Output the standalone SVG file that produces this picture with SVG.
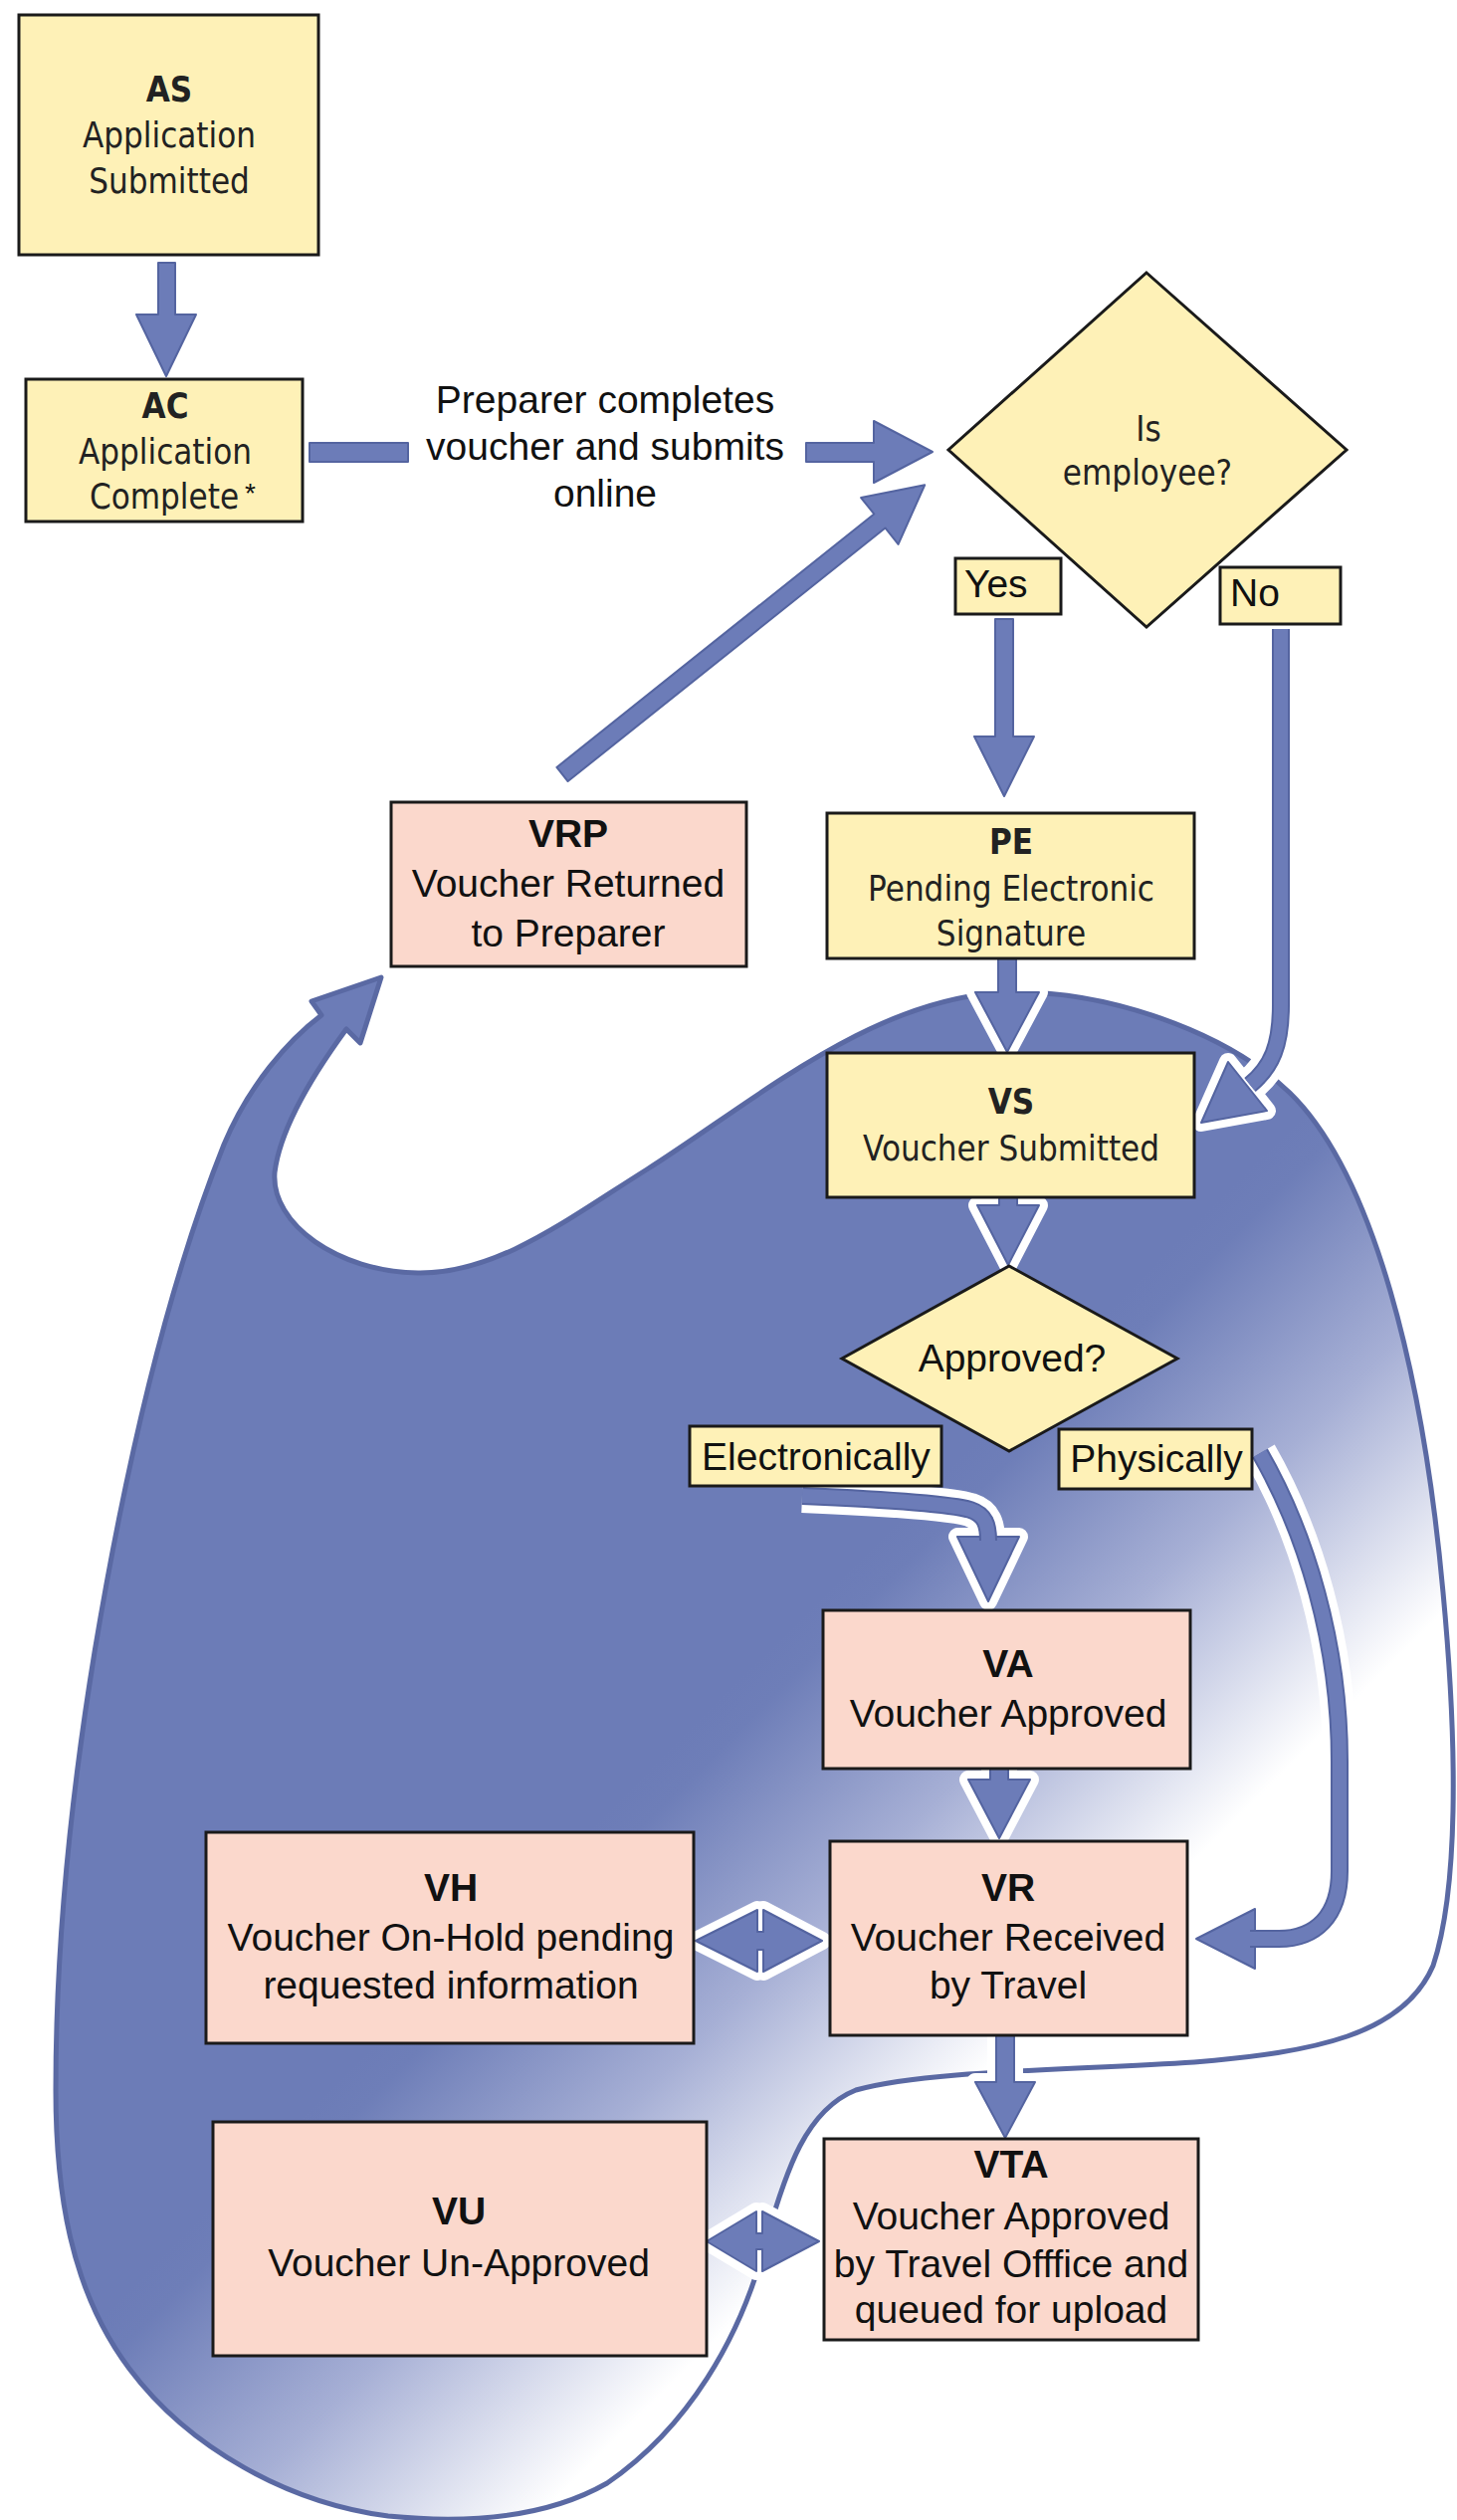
<svg xmlns="http://www.w3.org/2000/svg" xmlns:xlink="http://www.w3.org/1999/xlink" width="1464" height="2532" viewBox="0 0 1464 2532">
<defs>
<style>
.bg{fill:#ffffff}
.blob{fill:url(#blobGrad);stroke:#5a69a3;stroke-width:5;stroke-linejoin:round}
.by{fill:#fef1b7;stroke:#1a1a1a;stroke-width:3}
.bp{fill:#fbd8cc;stroke:#1a1a1a;stroke-width:3}
.arrow{fill:#6c7cb8;stroke:#5464a0;stroke-width:2;stroke-linejoin:round}
.halo{fill:#ffffff;stroke:#ffffff;stroke-width:18;stroke-linejoin:round}
.shalo{fill:none;stroke:#ffffff;stroke-width:34}
.shafto{fill:none;stroke:#5464a0;stroke-width:18}
.shaft{fill:none;stroke:#6c7cb8;stroke-width:14}
.t{font-family:"Liberation Sans",Arial,sans-serif;font-size:39px;fill:#111111;text-anchor:middle}
.ts{font-family:"Liberation Sans",Arial,sans-serif;font-size:39px;fill:#111111}
.d{font-family:"DejaVu Sans",Verdana,sans-serif;font-size:35px;fill:#222222;text-anchor:middle}
.b{font-weight:bold}
</style>
<linearGradient id="blobGrad" gradientUnits="userSpaceOnUse" x1="1215" y1="1215" x2="1535" y2="1535">
<stop offset="0" stop-color="#6c7cb7"/>
<stop offset="0.08" stop-color="#6e7eb8"/>
<stop offset="0.5" stop-color="#a6afd5"/>
<stop offset="1" stop-color="#ffffff"/>
</linearGradient>
<path id="a-as" d="M159,264 H176 V316 H197 L167,378 L137,316 H159 Z"/>
<path id="a-ac1" d="M311,445 H410 V464 H311 Z"/>
<path id="a-ac2" d="M810,445 H878 V423 L937,454 L878,485 V464 H810 Z"/>
<path id="a-vrp" transform="translate(565,778) rotate(-38.6)" d="M0,-9 H408 V-30 L466,0 L408,30 V9 H0 Z"/>
<path id="a-yes" d="M1000,622 H1018 V740 H1039 L1009,800 L979,740 H1000 Z"/>
<path id="a-no-h" d="M1207,1128 L1234,1067 L1273,1116 Z"/>
<path id="a-no-s" d="M1287,632 V1010 C1287,1050 1278,1072 1256,1090"/>
<path id="a-pe" d="M1003,963 H1021 V997 H1044 L1012,1057 L980,997 H1003 Z"/>
<path id="a-vs" d="M1004,1203 H1022 V1211 H1044 L1013,1271 L982,1211 H1004 Z"/>
<path id="a-el-h" d="M962,1544 H1024 L993,1609 Z"/>
<path id="a-el-s" d="M806,1503 C900,1507 955,1511 975,1517 C990,1522 993,1532 993,1548"/>
<path id="a-ph-h" d="M1202,1948 L1261,1918 V1978 Z"/>
<path id="a-ph-s" d="M1266,1460 C1312,1540 1346,1650 1346,1770 V1880 C1346,1925 1322,1948 1285,1948 H1256"/>
<path id="a-va" d="M995,1777 H1013 V1788 H1035 L1004,1847 L973,1788 H995 Z"/>
<path id="a-vh" d="M699,1950 L761,1919 V1941 H767 V1919 L826,1950 L767,1981 V1959 H761 V1981 Z"/>
<path id="a-vr" d="M1001,2045 H1019 V2092 H1040 L1010,2148 L980,2092 H1001 Z"/>
<path id="a-vu" d="M710,2252 L760,2222 V2244 H766 V2222 L823,2252 L766,2282 V2260 H760 V2282 Z"/>
</defs>
<rect class="bg" x="0" y="0" width="1464" height="2532"/>
<g id="loop-background">
<path class="blob" d="M383,982 L362,1048 L348,1034 C318,1075 282,1130 276,1178 C272,1230 340,1278 420,1279 C500,1280 570,1225 650,1175 C760,1105 880,1000 1015,997 C1110,995 1230,1035 1296,1098 C1380,1180 1430,1380 1450,1600 C1465,1760 1465,1900 1440,1975 C1410,2045 1320,2062 1200,2072 C1080,2080 930,2080 860,2100 C810,2120 790,2180 770,2250 C745,2350 690,2440 610,2495 C540,2535 450,2534 390,2528 C290,2515 190,2460 130,2380 C70,2300 56,2200 56,2100 C56,1950 72,1800 95,1660 C125,1480 165,1300 225,1150 C250,1090 290,1045 323,1020 L313,1006 Z"/>
</g>
<g id="connectors">
<use xlink:href="#a-pe" class="halo"/>
<use xlink:href="#a-vs" class="halo"/>
<use xlink:href="#a-no-h" class="halo"/>
<use xlink:href="#a-no-s" class="shalo"/>
<use xlink:href="#a-el-h" class="halo"/>
<use xlink:href="#a-el-s" class="shalo"/>
<use xlink:href="#a-ph-h" class="halo"/>
<use xlink:href="#a-ph-s" class="shalo"/>
<use xlink:href="#a-va" class="halo"/>
<use xlink:href="#a-vh" class="halo"/>
<use xlink:href="#a-vr" class="halo"/>
<use xlink:href="#a-vu" class="halo"/>
<use xlink:href="#a-as" class="arrow"/>
<use xlink:href="#a-ac1" class="arrow"/>
<use xlink:href="#a-ac2" class="arrow"/>
<use xlink:href="#a-vrp" class="arrow"/>
<use xlink:href="#a-yes" class="arrow"/>
<use xlink:href="#a-no-h" class="arrow"/>
<use xlink:href="#a-no-s" class="shafto"/>
<use xlink:href="#a-no-s" class="shaft"/>
<use xlink:href="#a-pe" class="arrow"/>
<use xlink:href="#a-vs" class="arrow"/>
<use xlink:href="#a-el-h" class="arrow"/>
<use xlink:href="#a-el-s" class="shafto"/>
<use xlink:href="#a-el-s" class="shaft"/>
<use xlink:href="#a-ph-h" class="arrow"/>
<use xlink:href="#a-ph-s" class="shafto"/>
<use xlink:href="#a-ph-s" class="shaft"/>
<use xlink:href="#a-va" class="arrow"/>
<use xlink:href="#a-vh" class="arrow"/>
<use xlink:href="#a-vr" class="arrow"/>
<use xlink:href="#a-vu" class="arrow"/>
<g id="label-preparer">
<text class="t" x="608" y="415">Preparer completes</text>
<text class="t" x="608" y="462">voucher and submits</text>
<text class="t" x="608" y="509">online</text>
</g>
<g id="label-yes">
<rect class="by" x="960" y="561" width="106" height="56"/>
<text class="ts" x="969" y="600">Yes</text>
</g>
<g id="label-no">
<rect class="by" x="1226" y="570" width="121" height="57"/>
<text class="ts" x="1236" y="609">No</text>
</g>
<g id="label-electronically">
<rect class="by" x="693" y="1433" width="253" height="60"/>
<text class="t" x="820" y="1477">Electronically</text>
</g>
<g id="label-physically">
<rect class="by" x="1064" y="1436" width="194" height="60"/>
<text class="t" x="1162" y="1479">Physically</text>
</g>
</g>
<g id="node-AS">
<rect class="by" x="19" y="15" width="301" height="241"/>
<text class="d b" transform="translate(170,102) scale(0.89,1)">AS</text>
<text class="d" transform="translate(170,148) scale(0.89,1)">Application</text>
<text class="d" transform="translate(170,194) scale(0.89,1)">Submitted</text>
</g>
<g id="node-AC">
<rect class="by" x="26" y="381" width="278" height="143"/>
<text class="d b" transform="translate(166,420) scale(0.89,1)">AC</text>
<text class="d" transform="translate(166,466) scale(0.89,1)">Application</text>
<text class="d" transform="translate(165,511) scale(0.89,1)">Complete</text>
<text class="ts" x="246" y="505" style="font-size:28px">*</text>
</g>
<g id="node-employee">
<polygon class="by" points="1152,274 1353,452 1152,630 953,452"/>
<text class="d" transform="translate(1154,443) scale(0.89,1)">Is</text>
<text class="d" transform="translate(1153,487) scale(0.89,1)">employee?</text>
</g>
<g id="node-VRP">
<rect class="bp" x="393" y="806" width="357" height="165"/>
<text class="t b" x="571" y="851">VRP</text>
<text class="t" x="571" y="901">Voucher Returned</text>
<text class="t" x="571" y="951">to Preparer</text>
</g>
<g id="node-PE">
<rect class="by" x="831" y="817" width="369" height="146"/>
<text class="d b" transform="translate(1016,858) scale(0.89,1)">PE</text>
<text class="d" transform="translate(1016,905) scale(0.89,1)">Pending Electronic</text>
<text class="d" transform="translate(1016,950) scale(0.89,1)">Signature</text>
</g>
<g id="node-VS">
<rect class="by" x="831" y="1058" width="369" height="145"/>
<text class="d b" transform="translate(1016,1119) scale(0.89,1)">VS</text>
<text class="d" transform="translate(1016,1166) scale(0.89,1)">Voucher Submitted</text>
</g>
<g id="node-approved">
<polygon class="by" points="1014,1272 1183,1365 1014,1458 846,1365"/>
<text class="t" x="1017" y="1378">Approved?</text>
</g>
<g id="node-VA">
<rect class="bp" x="827" y="1618" width="369" height="159"/>
<text class="t b" x="1013" y="1685">VA</text>
<text class="t" x="1013" y="1735">Voucher Approved</text>
</g>
<g id="node-VR">
<rect class="bp" x="834" y="1850" width="359" height="195"/>
<text class="t b" x="1013" y="1910">VR</text>
<text class="t" x="1013" y="1960">Voucher Received</text>
<text class="t" x="1013" y="2008">by Travel</text>
</g>
<g id="node-VH">
<rect class="bp" x="207" y="1841" width="490" height="212"/>
<text class="t b" x="453" y="1910">VH</text>
<text class="t" x="453" y="1960">Voucher On-Hold pending</text>
<text class="t" x="453" y="2008">requested information</text>
</g>
<g id="node-VTA">
<rect class="bp" x="828" y="2149" width="376" height="202"/>
<text class="t b" x="1016" y="2188">VTA</text>
<text class="t" x="1016" y="2240">Voucher Approved</text>
<text class="t" x="1016" y="2288">by Travel Offfice and</text>
<text class="t" x="1016" y="2334">queued for upload</text>
</g>
<g id="node-VU">
<rect class="bp" x="214" y="2132" width="496" height="235"/>
<text class="t b" x="461" y="2235">VU</text>
<text class="t" x="461" y="2287">Voucher Un-Approved</text>
</g>
</svg>
